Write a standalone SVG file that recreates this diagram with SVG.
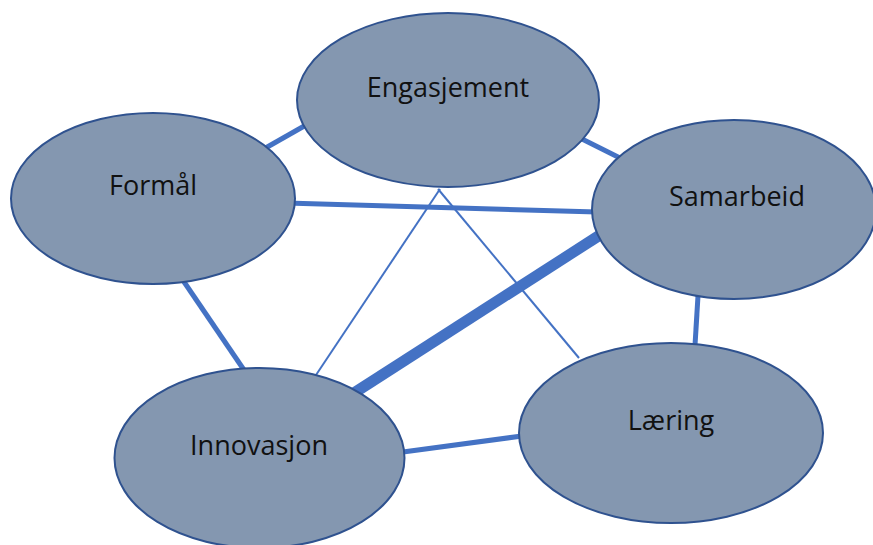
<svg xmlns="http://www.w3.org/2000/svg" width="873" height="545" viewBox="0 0 873 545">
  <style>
    .node ellipse { fill: #8497B0; stroke: #2F528F; stroke-width: 2; }
    .node text { font-family: "Open Sans", "Liberation Sans", sans-serif; font-size: 27px; fill: #111; text-anchor: middle; dominant-baseline: middle; }
    .edge { stroke: #4472C4; stroke-linecap: butt; fill: none; }
    .w1 { stroke-width: 2; }
    .w2 { stroke-width: 5; }
    .w3 { stroke-width: 11; }
  </style>
  <rect width="873" height="545" fill="#ffffff"/>
  <g id="connectors">
    <line class="edge w2" x1="262" y1="150" x2="306" y2="125"/>
    <line class="edge w2" x1="582" y1="139" x2="626" y2="161"/>
    <line class="edge w2" x1="286" y1="203" x2="597" y2="212"/>
    <line class="edge w2" x1="178" y1="273" x2="244" y2="370"/>
    <line class="edge w2" x1="698" y1="296" x2="695" y2="345"/>
    <line class="edge w2" x1="403" y1="452" x2="522" y2="436"/>
    <line class="edge w3" x1="354" y1="393" x2="600" y2="235"/>
    <line class="edge w1" x1="440" y1="189" x2="314" y2="378"/>
    <line class="edge w1" x1="438" y1="189" x2="579" y2="358"/>
  </g>
  <g id="engasjement" class="node">
    <ellipse cx="448" cy="100" rx="151" ry="87"/>
    <text x="448" y="90">Engasjement</text>
  </g>
  <g id="formal" class="node">
    <ellipse cx="153" cy="198.5" rx="142" ry="85.5"/>
    <text x="153" y="188">Formål</text>
  </g>
  <g id="samarbeid" class="node">
    <ellipse cx="734" cy="209.5" rx="142" ry="89.5"/>
    <text x="737" y="199">Samarbeid</text>
  </g>
  <g id="innovasjon" class="node">
    <ellipse cx="259.5" cy="458" rx="145" ry="90"/>
    <text x="259" y="448">Innovasjon</text>
  </g>
  <g id="laering" class="node">
    <ellipse cx="671" cy="433" rx="152" ry="90"/>
    <text x="671" y="423">Læring</text>
  </g>
</svg>
